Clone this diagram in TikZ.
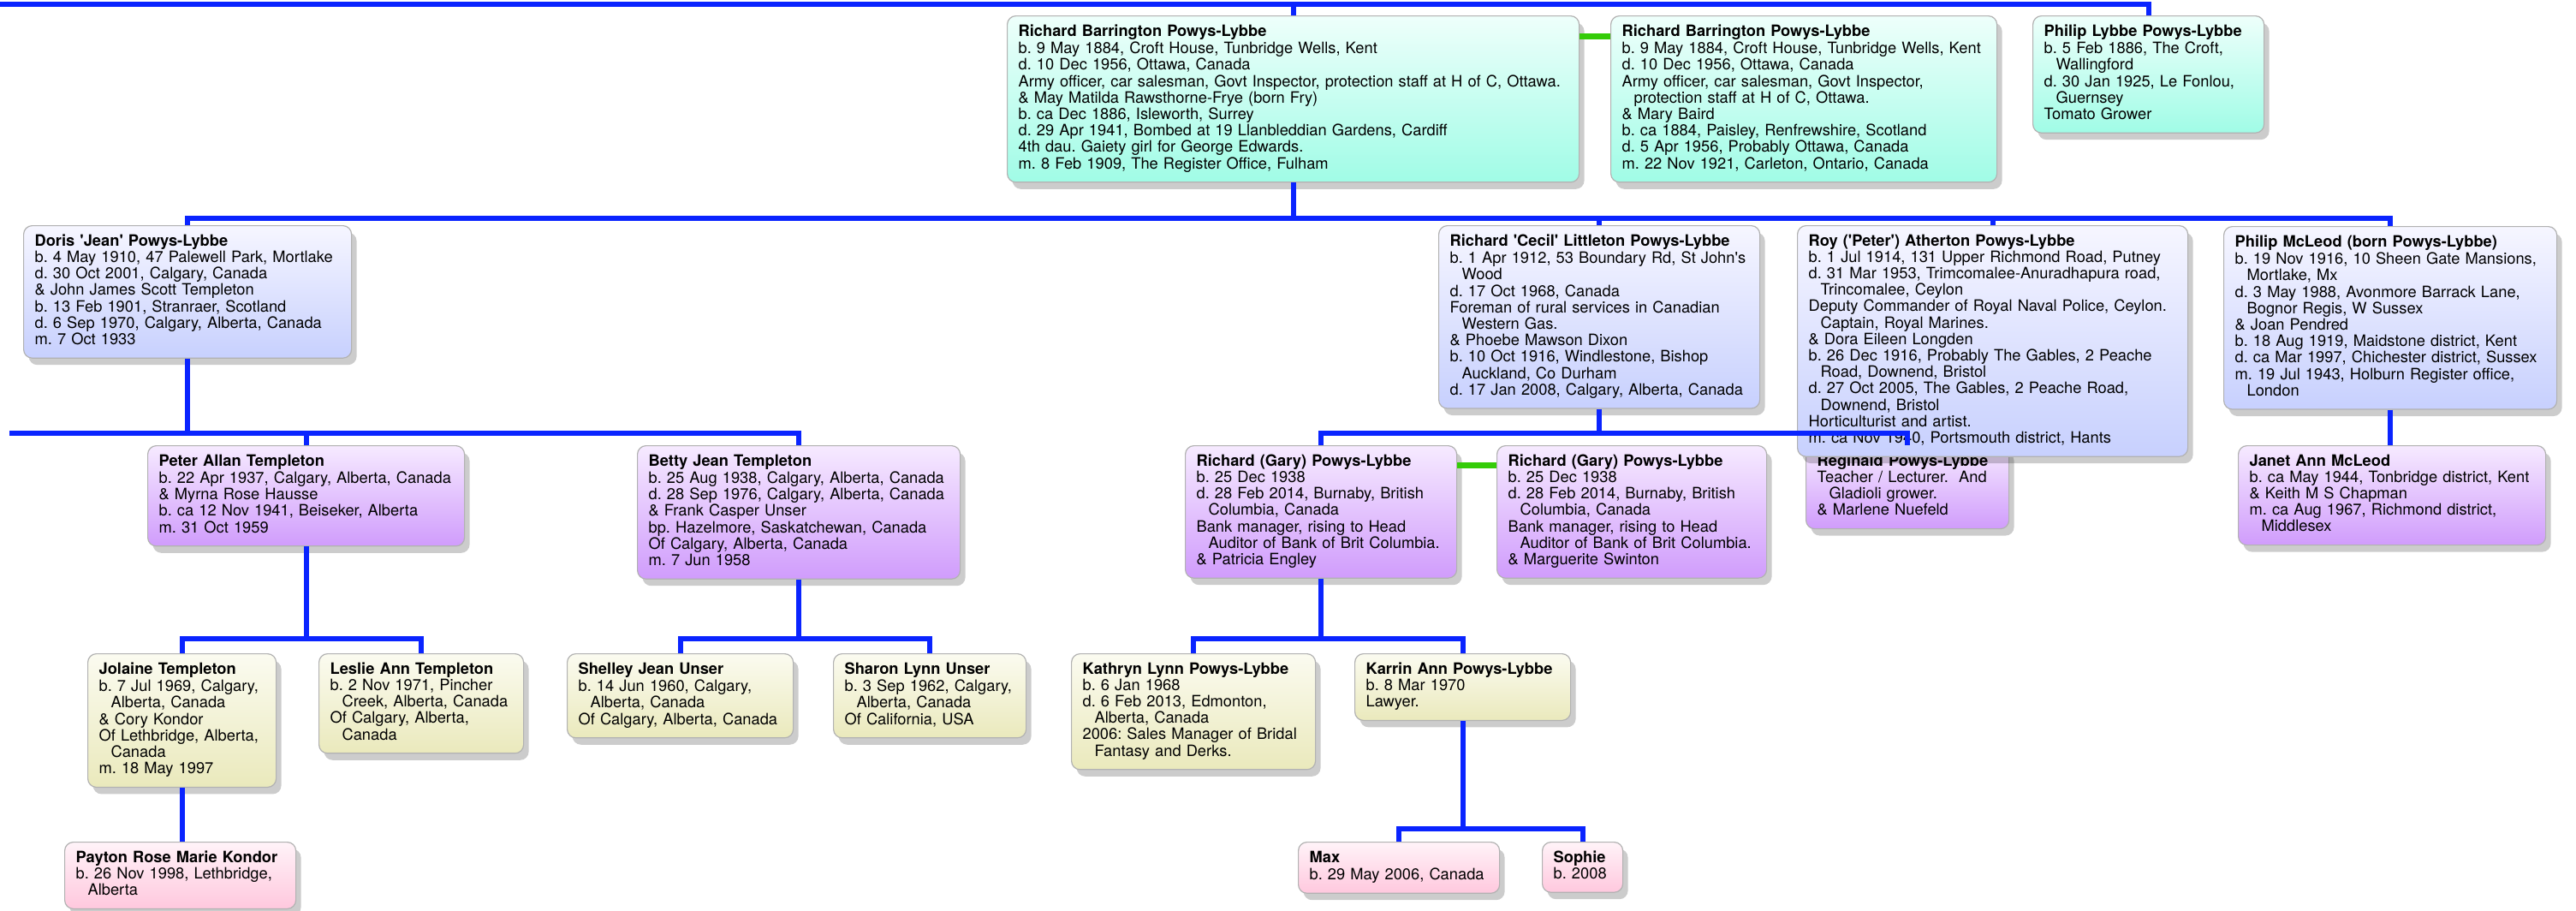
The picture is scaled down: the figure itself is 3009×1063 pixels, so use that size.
\documentclass[tikz,border=0pt]{standalone}
\usepackage{fontspec}
\setmainfont{TeX Gyre Heros}
\usepackage{xcolor}
\usetikzlibrary{
	shadows
}
\definecolor{mintTop}{RGB}{238,255,251}
\definecolor{mintBot}{RGB}{160,252,230}
\definecolor{lavTop}{RGB}{246,246,255}
\definecolor{lavBot}{RGB}{199,208,254}
\definecolor{purTop}{RGB}{246,234,255}
\definecolor{purBot}{RGB}{208,156,252}
\definecolor{khaTop}{RGB}{251,251,240}
\definecolor{khaBot}{RGB}{234,233,188}
\definecolor{pinkTop}{RGB}{255,243,248}
\definecolor{pinkBot}{RGB}{255,200,222}
\definecolor{boxEdge}{RGB}{178,178,178}
\definecolor{treeBlue}{RGB}{10,36,255}
\definecolor{wedGreen}{RGB}{52,204,8}
\newcommand{\ind}{\hspace*{14pt}}
\newcommand{\sq}{\textquotesingle}

\begin{document}
\begin{tikzpicture}[x=1pt,y=-1pt,
		person/.style={draw=boxEdge, line width=1.2pt, rounded corners=10pt,
			anchor=north west, align=left, inner xsep=13pt, inner ysep=10pt,
			font=\fontsize{18.3pt}{19.2pt}\selectfont\frenchspacing,
			execute at begin node=\strut, execute at end node=\strut,
			drop shadow={shadow xshift=6pt, shadow yshift=-8pt, opacity=0.2, fill=black}},
		gen1/.style={person, top color=mintTop, bottom color=mintBot},
		gen2/.style={person, top color=lavTop, bottom color=lavBot},
		gen3/.style={person, top color=purTop, bottom color=purBot},
		gen4/.style={person, top color=khaTop, bottom color=khaBot},
		gen5/.style={person, top color=pinkTop, bottom color=pinkBot},
		kin/.style={draw=treeBlue, line width=6pt},
		wed/.style={draw=wedGreen, line width=7pt}]
		\useasboundingbox (0,0) rectangle (3009,1063);
		%
		\node[gen5, text width=244pt] (Payton) at (75,983) {\textbf{Payton Rose Marie Kondor}\\ b. 26 Nov 1998, Lethbridge,\\ \ind Alberta};
		\node[gen5, text width=209pt] (Max) at (1516,983) {\textbf{Max}\\ b. 29 May 2006, Canada};
		\node[gen5, text width=68pt] (Sophie) at (1801,983) {\textbf{Sophie}\\ b. 2008};
		%
		\node[gen4, text width=194pt] (Jolaine) at (102,763) {\textbf{Jolaine Templeton}\\ b. 7 Jul 1969, Calgary,\\ \ind Alberta, Canada\\ \& Cory Kondor\\ Of Lethbridge, Alberta,\\ \ind Canada\\ m. 18 May 1997};
		\node[gen4, text width=213pt] (Leslie) at (372,763) {\textbf{Leslie Ann Templeton}\\ b. 2 Nov 1971, Pincher\\ \ind Creek, Alberta, Canada\\ Of Calgary, Alberta,\\ \ind Canada};
		\node[gen4, text width=238pt] (Shelley) at (662,763) {\textbf{Shelley Jean Unser}\\ b. 14 Jun 1960, Calgary,\\ \ind Alberta, Canada\\ Of Calgary, Alberta, Canada};
		\node[gen4, text width=199pt] (Sharon) at (973,763) {\textbf{Sharon Lynn Unser}\\ b. 3 Sep 1962, Calgary,\\ \ind Alberta, Canada\\ Of California, USA};
		\node[gen4, text width=259pt] (Kathryn) at (1251,763) {\textbf{Kathryn Lynn Powys-Lybbe}\\ b. 6 Jan 1968\\ d. 6 Feb 2013, Edmonton,\\ \ind Alberta, Canada\\ 2006: Sales Manager of Bridal\\ \ind Fantasy and Derks.};
		\node[gen4, text width=226pt] (Karrin) at (1582,763) {\textbf{Karrin Ann Powys-Lybbe}\\ b. 8 Mar 1970\\ Lawyer.};
		%
		\node[gen3, text width=344pt] (Peter) at (172,520) {\textbf{Peter Allan Templeton}\\ b. 22 Apr 1937, Calgary, Alberta, Canada\\ \& Myrna Rose Hausse\\ b. ca 12 Nov 1941, Beiseker, Alberta\\ m. 31 Oct 1959};
		\node[gen3, text width=351pt] (Betty) at (744,520) {\textbf{Betty Jean Templeton}\\ b. 25 Aug 1938, Calgary, Alberta, Canada\\ d. 28 Sep 1976, Calgary, Alberta, Canada\\ \& Frank Casper Unser\\ bp. Hazelmore, Saskatchewan, Canada\\ Of Calgary, Alberta, Canada\\ m. 7 Jun 1958};
		\node[gen3, text width=291pt] (Gary1) at (1384,520) {\textbf{Richard (Gary) Powys-Lybbe}\\ b. 25 Dec 1938\\ d. 28 Feb 2014, Burnaby, British\\ \ind Columbia, Canada\\ Bank manager, rising to Head\\ \ind Auditor of Bank of Brit Columbia.\\ \& Patricia Engley};
		\node[gen3, text width=289pt] (Gary2) at (1748,520) {\textbf{Richard (Gary) Powys-Lybbe}\\ b. 25 Dec 1938\\ d. 28 Feb 2014, Burnaby, British\\ \ind Columbia, Canada\\ Bank manager, rising to Head\\ \ind Auditor of Bank of Brit Columbia.\\ \& Marguerite Swinton};
		\node[gen3, text width=211pt] (Reginald) at (2109,520) {\textbf{Reginald Powys-Lybbe}\\ Teacher / Lecturer.\ \ And\\ \ind Gladioli grower.\\ \& Marlene Nuefeld};
		\node[gen3, text width=333pt] (Janet) at (2614,520) {\textbf{Janet Ann McLeod}\\ b. ca May 1944, Tonbridge district, Kent\\ \& Keith M S Chapman\\ m. ca Aug 1967, Richmond district,\\ \ind Middlesex};
		%
		\node[gen2, text width=357pt] (Doris) at (27,263) {\textbf{Doris \sq Jean\sq\ Powys-Lybbe}\\ b. 4 May 1910, 47 Palewell Park, Mortlake\\ d. 30 Oct 2001, Calgary, Canada\\ \& John James Scott Templeton\\ b. 13 Feb 1901, Stranraer, Scotland\\ d. 6 Sep 1970, Calgary, Alberta, Canada\\ m. 7 Oct 1933};
		\node[gen2, text width=349pt] (Cecil) at (1680,263) {\textbf{Richard \sq Cecil\sq\ Littleton Powys-Lybbe}\\ b. 1 Apr 1912, 53 Boundary Rd, St John\sq s\\ \ind Wood\\ d. 17 Oct 1968, Canada\\ Foreman of rural services in Canadian\\ \ind Western Gas.\\ \& Phoebe Mawson Dixon\\ b. 10 Oct 1916, Windlestone, Bishop\\ \ind Auckland, Co Durham\\ d. 17 Jan 2008, Calgary, Alberta, Canada};
		\node[gen2, text width=430pt] (Roy) at (2099,263) {\textbf{Roy (\sq Peter\sq) Atherton Powys-Lybbe}\\ b. 1 Jul 1914, 131 Upper Richmond Road, Putney\\ d. 31 Mar 1953, Trimcomalee-Anuradhapura road,\\ \ind Trincomalee, Ceylon\\ Deputy Commander of Royal Naval Police, Ceylon.\\ \ind Captain, Royal Marines.\\ \& Dora Eileen Longden\\ b. 26 Dec 1916, Probably The Gables, 2 Peache\\ \ind Road, Downend, Bristol\\ d. 27 Oct 2005, The Gables, 2 Peache Road,\\ \ind Downend, Bristol\\ Horticulturist and artist.\\ m. ca Nov 1940, Portsmouth district, Hants};
		\node[gen2, text width=363pt] (PMcL) at (2597,264) {\textbf{Philip McLeod (born Powys-Lybbe)}\\ b. 19 Nov 1916, 10 Sheen Gate Mansions,\\ \ind Mortlake, Mx\\ d. 3 May 1988, Avonmore Barrack Lane,\\ \ind Bognor Regis, W Sussex\\ \& Joan Pendred\\ b. 18 Aug 1919, Maidstone district, Kent\\ d. ca Mar 1997, Chichester district, Sussex\\ m. 19 Jul 1943, Holburn Register office,\\ \ind London};
		%
		\node[gen1, text width=642pt] (RBP1) at (1176,18) {\textbf{Richard Barrington Powys-Lybbe}\\ b. 9 May 1884, Croft House, Tunbridge Wells, Kent\\ d. 10 Dec 1956, Ottawa, Canada\\ Army officer, car salesman, Govt Inspector, protection staff at H of C, Ottawa.\\ \& May Matilda Rawsthorne-Frye (born Fry)\\ b. ca Dec 1886, Isleworth, Surrey\\ d. 29 Apr 1941, Bombed at 19 Llanbleddian Gardens, Cardiff\\ 4th dau. Gaiety girl for George Edwards.\\ m. 8 Feb 1909, The Register Office, Fulham};
		\node[gen1, text width=425pt] (RBP2) at (1881,18) {\textbf{Richard Barrington Powys-Lybbe}\\ b. 9 May 1884, Croft House, Tunbridge Wells, Kent\\ d. 10 Dec 1956, Ottawa, Canada\\ Army officer, car salesman, Govt Inspector,\\ \ind protection staff at H of C, Ottawa.\\ \& Mary Baird\\ b. ca 1884, Paisley, Renfrewshire, Scotland\\ d. 5 Apr 1956, Probably Ottawa, Canada\\ m. 22 Nov 1921, Carleton, Ontario, Canada};
		\node[gen1, text width=244pt] (PLP) at (2374,18) {\textbf{Philip Lybbe Powys-Lybbe}\\ b. 5 Feb 1886, The Croft,\\ \ind Wallingford\\ d. 30 Jan 1925, Le Fonlou,\\ \ind Guernsey\\ Tomato Grower};
		%
		\coordinate (topL) at (0,5);
		\coordinate (bus2) at (0,255);
		\coordinate (bus3) at (0,506);
		\coordinate (bus3L) at (11,506);
		\coordinate (bus4) at (0,746);
		\coordinate (bus5) at (0,968);
		%
		\path[kin]
			(topL) -| (PLP.north)
			(RBP1.north) -- (RBP1.north |- topL)
			(RBP1.south) -- (RBP1.south |- bus2) -| (Doris.north)
			(RBP1.south |- bus2) -| (Cecil.north)
			(RBP1.south |- bus2) -| (Roy.north)
			(RBP1.south |- bus2) -| (PMcL.north)
			(Doris.south) -- (Doris.south |- bus3) -| (Peter.north)
			(Doris.south |- bus3) -| (Betty.north)
			(Doris.south |- bus3) -- (bus3L)
			(Cecil.south) -- (Cecil.south |- bus3) -| (Gary1.north)
			(Cecil.south |- bus3) -| (Reginald.north)
			(PMcL.south) -- (PMcL.south |- Janet.north)
			(Peter.south) -- (Peter.south |- bus4) -| (Jolaine.north)
			(Peter.south |- bus4) -| (Leslie.north)
			(Betty.south) -- (Betty.south |- bus4) -| (Shelley.north)
			(Betty.south |- bus4) -| (Sharon.north)
			(Gary1.south) -- (Gary1.south |- bus4) -| (Kathryn.north)
			(Gary1.south |- bus4) -| (Karrin.north)
			(Jolaine.south) -- (Jolaine.south |- Payton.north)
			(Karrin.south) -- (Karrin.south |- bus5) -| (Max.north)
			(Karrin.south |- bus5) -| (Sophie.north);
		%
		\path[wed]
			([yshift=-24pt]RBP1.north east) -- ([yshift=-24pt]RBP2.north west)
			([yshift=-23pt]Gary1.north east) -- ([yshift=-23pt]Gary2.north west);
	\end{tikzpicture}
\end{document}
